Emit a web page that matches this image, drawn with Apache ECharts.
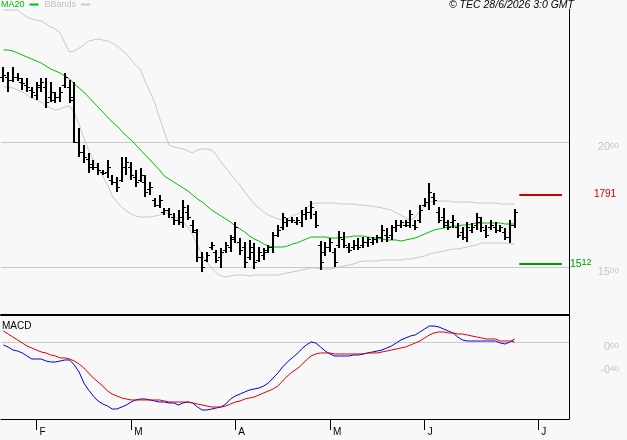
<!DOCTYPE html>
<html><head><meta charset="utf-8">
<script src="https://cdn.jsdelivr.net/npm/echarts@6/dist/echarts.min.js"></script>
<style>html,body{margin:0;padding:0;background:#f8f8f8}#c{width:627px;height:440px}</style>
</head><body><div id="c"></div>
<script>
// ---- data ----
const openP = [22.60,22.60,22.50,22.60,22.40,22.30,22.10,21.90,22.30,22.20,
21.80,21.70,21.80,22.30,22.20,21.70,20.00,19.60,19.30,19.10,
19.00,18.80,18.80,18.50,18.40,18.50,19.00,19.00,18.60,18.50,
18.40,18.10,17.70,17.50,17.20,17.30,17.00,16.90,16.80,17.20,
16.70,16.40,15.40,15.30,15.80,15.60,15.40,15.70,15.80,16.20,
16.00,15.80,15.40,15.60,15.30,15.50,15.70,15.80,16.30,16.60,
16.80,16.90,16.80,16.80,17.10,17.20,17.10,15.90,15.60,15.80,
15.60,15.90,16.10,15.80,15.80,15.90,15.90,16.00,16.00,16.10,
16.20,16.30,16.30,16.60,16.70,16.70,16.70,16.70,16.90,17.50,
17.60,17.80,17.20,17.00,16.70,16.80,16.60,16.40,16.20,16.50,
16.70,16.80,16.50,16.60,16.60,16.50,16.40,16.20,16.70];
const closeP = [22.70,22.50,22.60,22.56,22.36,22.20,22.00,22.20,22.40,21.60,
22.00,21.80,22.00,22.60,21.80,20.00,19.60,19.40,19.00,19.00,
18.90,18.76,19.00,18.40,18.20,19.00,19.20,18.70,18.40,18.70,
18.00,18.20,17.50,17.70,17.30,17.10,16.90,17.00,17.40,17.00,
16.50,15.40,15.00,15.50,15.90,15.30,15.60,15.90,16.10,16.60,
15.70,15.20,15.80,15.20,15.60,15.60,15.80,16.30,16.50,17.00,
16.90,16.90,16.90,17.10,17.20,17.40,16.70,15.20,15.80,16.00,
15.20,16.20,15.90,15.70,15.90,15.80,16.00,16.10,16.10,16.20,
16.50,16.20,16.60,16.70,16.80,16.80,17.10,16.60,17.30,17.60,
18.00,17.70,16.90,16.80,16.60,16.90,16.30,16.20,16.60,16.60,
17.00,16.60,16.30,16.70,16.50,16.60,16.20,16.70,17.20];
const lowP = [22.40,22.00,22.40,22.44,22.08,22.00,21.76,21.68,22.00,21.36,
21.60,21.56,21.60,22.16,21.56,19.96,19.40,19.16,18.76,18.88,
18.68,18.68,18.56,18.28,18.00,18.40,18.68,18.48,18.20,18.40,
17.80,17.88,17.40,17.36,17.08,16.96,16.68,16.68,16.56,16.88,
16.36,15.20,14.80,15.20,15.68,15.16,14.96,15.56,15.60,15.96,
15.48,14.96,15.28,14.92,15.20,15.28,15.56,15.56,16.20,16.48,
16.60,16.76,16.68,16.60,16.88,16.92,16.56,14.88,15.44,15.60,
15.00,15.76,15.76,15.56,15.68,15.68,15.76,15.80,15.88,15.96,
16.00,16.00,16.08,16.40,16.56,16.60,16.56,16.48,16.76,17.40,
17.28,17.48,16.76,16.56,16.48,16.56,16.16,16.08,16.00,16.36,
16.48,16.40,16.16,16.48,16.36,16.40,16.08,15.96,16.56];
const highP = [23.00,22.80,23.00,22.76,22.56,22.56,22.20,22.40,22.56,22.56,
22.40,22.00,22.20,22.76,22.48,22.40,20.56,19.88,19.56,19.28,
19.16,18.88,19.28,18.68,18.60,19.40,19.40,19.20,18.88,18.96,
18.68,18.40,17.76,17.88,17.36,17.36,17.16,17.28,17.68,17.48,
16.88,16.52,15.60,15.60,16.00,15.68,15.76,16.00,16.28,16.80,
16.16,16.00,16.08,15.96,15.80,15.76,15.88,16.40,16.68,17.16,
16.96,17.00,17.00,17.28,17.40,17.64,17.24,16.04,16.00,16.16,
15.76,16.44,16.40,15.96,16.08,16.16,16.20,16.20,16.20,16.28,
16.68,16.56,16.68,16.88,16.88,16.88,17.28,16.88,17.48,17.76,
18.36,17.96,17.40,17.36,16.88,17.08,16.76,16.60,16.80,16.76,
17.16,17.00,16.68,16.88,16.80,16.68,16.56,16.88,17.32];
const ma20 = [23.68,23.68,23.64,23.56,23.48,23.40,23.32,23.24,23.16,23.04,
22.92,22.84,22.76,22.64,22.52,22.32,22.16,22.00,21.80,21.60,
21.40,21.20,21.00,20.80,20.64,20.44,20.24,20.08,19.88,19.68,
19.48,19.28,19.08,18.88,18.64,18.52,18.40,18.28,18.16,18.04,
17.88,17.72,17.60,17.44,17.28,17.16,17.04,16.92,16.80,16.64,
16.52,16.40,16.24,16.12,16.04,15.92,15.84,15.80,15.80,15.80,
15.84,15.92,15.96,16.04,16.12,16.20,16.20,16.20,16.20,16.16,
16.16,16.16,16.20,16.20,16.24,16.24,16.24,16.20,16.16,16.16,
16.12,16.08,16.08,16.08,16.04,16.08,16.12,16.16,16.24,16.32,
16.40,16.48,16.52,16.56,16.60,16.64,16.64,16.68,16.68,16.72,
16.76,16.76,16.76,16.76,16.76,16.76,16.72,16.72,16.72];
const bbUpper = [25.28,25.28,25.28,25.28,25.12,25.00,24.92,24.88,24.84,24.72,
24.60,24.52,24.36,23.96,23.60,23.64,23.76,23.88,24.04,24.08,
24.12,24.08,24.04,23.96,23.84,23.68,23.52,23.28,23.08,22.88,
22.40,22.00,21.56,20.96,20.40,19.88,19.80,19.76,19.72,19.64,
19.56,19.68,19.72,19.72,19.68,19.48,19.20,18.96,18.72,18.48,
18.28,18.00,17.76,17.52,17.36,17.20,17.08,17.00,16.92,16.88,
16.92,17.04,17.12,17.20,17.36,17.52,17.56,17.56,17.56,17.56,
17.56,17.52,17.52,17.52,17.52,17.48,17.48,17.44,17.44,17.40,
17.36,17.32,17.28,17.16,17.08,16.96,16.88,17.00,17.24,17.44,
17.60,17.64,17.64,17.64,17.64,17.60,17.60,17.60,17.60,17.60,
17.56,17.56,17.56,17.56,17.56,17.52,17.52,17.52,17.52];
const bbLower = [22.20,22.20,22.16,22.08,22.00,21.88,21.76,21.68,21.60,21.44,
21.36,21.28,21.32,21.40,21.44,21.16,20.72,20.16,19.68,19.28,
18.96,18.64,18.28,17.84,17.60,17.40,17.24,17.12,17.04,17.00,
17.00,17.00,17.04,17.08,17.16,17.16,17.04,16.92,16.80,16.60,
16.28,15.88,15.48,15.20,14.96,14.76,14.64,14.60,14.64,14.68,
14.68,14.68,14.64,14.68,14.68,14.68,14.68,14.68,14.68,14.72,
14.76,14.80,14.84,14.88,14.92,14.96,14.96,14.92,14.92,14.92,
14.96,15.00,15.04,15.08,15.12,15.20,15.24,15.24,15.24,15.24,
15.28,15.28,15.28,15.28,15.28,15.32,15.32,15.36,15.40,15.44,
15.52,15.56,15.60,15.64,15.68,15.72,15.72,15.76,15.80,15.84,
15.88,15.96,15.96,15.96,15.96,15.96,15.96,15.92,15.92];
const macd = [-0.052,-0.087,-0.139,-0.157,-0.191,-0.244,-0.296,-0.296,-0.296,-0.331,
-0.348,-0.348,-0.331,-0.313,-0.313,-0.400,-0.522,-0.713,-0.835,-0.940,
-1.027,-1.079,-1.114,-1.166,-1.166,-1.131,-1.096,-1.044,-1.009,-0.992,
-0.992,-1.009,-1.027,-1.044,-1.044,-1.061,-1.061,-1.096,-1.061,-1.044,
-1.061,-1.131,-1.183,-1.183,-1.166,-1.148,-1.131,-1.079,-0.992,-0.940,
-0.905,-0.870,-0.835,-0.818,-0.800,-0.766,-0.713,-0.626,-0.539,-0.435,
-0.348,-0.278,-0.209,-0.122,-0.052,0.000,-0.017,-0.087,-0.157,-0.209,
-0.244,-0.244,-0.244,-0.244,-0.226,-0.226,-0.209,-0.191,-0.174,-0.157,
-0.139,-0.104,-0.070,-0.017,0.035,0.070,0.104,0.122,0.174,0.226,
0.278,0.278,0.261,0.226,0.191,0.157,0.087,0.035,0.017,0.017,
0.017,0.017,0.017,0.017,0.017,-0.017,-0.035,0.000,0.052];
const signal = [0.191,0.139,0.087,0.035,-0.017,-0.070,-0.104,-0.139,-0.174,-0.191,
-0.226,-0.244,-0.278,-0.278,-0.296,-0.331,-0.383,-0.452,-0.539,-0.626,
-0.696,-0.766,-0.853,-0.905,-0.940,-0.974,-0.992,-1.009,-1.009,-1.009,
-1.009,-1.009,-1.009,-1.009,-1.027,-1.044,-1.044,-1.044,-1.044,-1.044,
-1.061,-1.079,-1.096,-1.114,-1.131,-1.131,-1.131,-1.114,-1.079,-1.044,
-1.027,-0.992,-0.974,-0.957,-0.922,-0.887,-0.853,-0.818,-0.766,-0.679,
-0.592,-0.522,-0.470,-0.400,-0.313,-0.244,-0.209,-0.191,-0.191,-0.191,
-0.209,-0.209,-0.209,-0.209,-0.209,-0.209,-0.209,-0.191,-0.191,-0.191,
-0.174,-0.157,-0.139,-0.122,-0.104,-0.087,-0.052,-0.017,0.017,0.070,
0.122,0.157,0.174,0.174,0.157,0.157,0.139,0.139,0.122,0.104,
0.087,0.070,0.052,0.052,0.052,0.017,0.017,0.017,0.000];
const resistance = 17.91;
const support = 15.12;
const priceTicks = [15, 20];
const macdTicks = [0, -0.4];
const holidays = ['2026-04-03', '2026-04-06', '2026-05-01'];
const monthLetters = ['J','F','M','A','M','J','J','A','S','O','N','D'];

// ---- categories: trading days of the data, then calendar days ahead ----
function fmt(d){const m=d.getUTCMonth()+1, dd=d.getUTCDate();return d.getUTCFullYear()+'-'+(m<10?'0':'')+m+'-'+(dd<10?'0':'')+dd;}
const cats = [];
let d = new Date(Date.UTC(2026,0,22));
while (cats.length < openP.length) {
  const wd = d.getUTCDay();
  const s = fmt(d);
  if (wd !== 0 && wd !== 6 && holidays.indexOf(s) < 0) cats.push(s);
  d = new Date(d.getTime() + 86400000);
}
while (cats.length < 120) { cats.push(fmt(d)); d = new Date(d.getTime() + 86400000); }
function isMonthStart(i){ return i > 0 && cats[i].slice(5,7) !== cats[i-1].slice(5,7); }

const ohlc = openP.map((o,i)=>[i, o, closeP[i], lowP[i], highP[i]]);

function splitLabel(v){
  const s = Number(v).toFixed(2).split('.');
  return '{a|' + s[0] + '}{b|' + s[1] + '}';
}
const axisRich = {
  a:{fontSize:11, color:'#c4c4c4', verticalAlign:'top', lineHeight:11},
  b:{fontSize:8, color:'#c4c4c4', verticalAlign:'top', lineHeight:11}
};

const chart = echarts.init(document.getElementById('c'), null, {renderer:'canvas'});
chart.setOption({
  animation:false,
  backgroundColor:'#f8f8f8',
  textStyle:{fontFamily:'Liberation Sans, Arial, sans-serif'},
  title:[
    {text:'© TEC 28/6/2026 3:0 GMT', right:53, top:0, padding:0,
     textStyle:{fontStyle:'italic', fontWeight:'normal', fontSize:10.5, color:'#000'}},
    {text:'MACD', left:2, top:321, padding:0,
     textStyle:{fontWeight:'normal', fontSize:10, color:'#000'}}
  ],
  legend:{left:1, top:0, padding:0, itemWidth:9, itemHeight:2, itemGap:6, align:'right',
    selectedMode:false,
    textStyle:{fontSize:9},
    data:[{name:'MA20', icon:'rect', textStyle:{color:'#00c000'}},
          {name:'BBands', icon:'rect', textStyle:{color:'#c0c0c0'}}]},
  grid:[
    {left:1, right:58, top:9, height:306},
    {left:1, right:58, top:316, height:103}
  ],
  xAxis:[
    {type:'category', gridIndex:0, data:cats, boundaryGap:true,
     axisLine:{onZero:false, lineStyle:{color:'#000', width:2}}, axisTick:{show:false}, axisLabel:{show:false}, splitLine:{show:false}},
    {type:'category', gridIndex:1, data:cats, boundaryGap:true,
     axisLine:{onZero:false, lineStyle:{color:'#000', width:1}},
     axisTick:{show:true, alignWithLabel:true, length:11, interval:(i)=>isMonthStart(i), lineStyle:{color:'#000', width:1}},
     axisLabel:{interval:(i)=>isMonthStart(i), formatter:(v)=>monthLetters[parseInt(v.slice(5,7),10)-1],
       align:'left', verticalAlign:'top', margin:8, padding:[0,0,0,3], fontSize:10, color:'#000'},
     splitLine:{show:false}}
  ],
  yAxis:[
    {type:'value', gridIndex:0, position:'right', min:13.08, max:25.32,
     axisLine:{show:true, onZero:false, lineStyle:{color:'#000', width:1}},
     axisTick:{show:false, customValues:priceTicks},
     splitLine:{show:true, lineStyle:{color:'#c8c8c8', width:1}},
     axisLabel:{customValues:priceTicks, formatter:splitLabel, rich:axisRich, align:'right', margin:50, padding:[10,0,0,0]}},
    {type:'value', gridIndex:1, position:'right', min:-1.34, max:0.452,
     axisLine:{show:true, onZero:false, lineStyle:{color:'#000', width:1}},
     axisTick:{show:false, customValues:[0]},
     splitLine:{show:true, lineStyle:{color:'#c8c8c8', width:1}},
     axisLabel:{customValues:macdTicks, formatter:splitLabel, rich:axisRich, align:'right', margin:50, padding:[10,0,0,0]}}
  ],
  series:[
    {name:'BBands', type:'line', xAxisIndex:0, yAxisIndex:0, data:bbUpper, showSymbol:false, symbol:'none',
     lineStyle:{color:'#c8c8c8', width:1}, itemStyle:{color:'#c8c8c8'}, z:1},
    {name:'BBands', type:'line', xAxisIndex:0, yAxisIndex:0, data:bbLower, showSymbol:false, symbol:'none',
     lineStyle:{color:'#c8c8c8', width:1}, itemStyle:{color:'#c8c8c8'}, z:1,
     markLine:{silent:true, symbol:['none','none'], animation:false,
       data:[
         [{coord:[cats[109], resistance], lineStyle:{color:'#cc0000', width:2, type:'solid'},
           label:{show:true, position:'end', distance:32, formatter:()=>splitLabel(resistance).replace('{b|','{c|'),
             rich:{a:{fontSize:10, color:'#cc0000', verticalAlign:'top', lineHeight:11}, c:{fontSize:10, color:'#cc0000', verticalAlign:'top', lineHeight:11}}}},
          {coord:[cats[118], resistance]}],
         [{coord:[cats[109], support], lineStyle:{color:'#009900', width:2, type:'solid'},
           label:{show:true, position:'end', distance:8, formatter:()=>splitLabel(support),
             rich:{a:{fontSize:10.5, color:'#009900', verticalAlign:'top', lineHeight:11}, b:{fontSize:9, color:'#009900', verticalAlign:'top', lineHeight:11}}}},
          {coord:[cats[118], support]}]
       ]}},
    {name:'MA20', type:'line', xAxisIndex:0, yAxisIndex:0, data:ma20, showSymbol:false, symbol:'none',
     lineStyle:{color:'#00c000', width:1}, itemStyle:{color:'#00c000'}, z:2},
    {name:'Price', type:'custom', xAxisIndex:0, yAxisIndex:0, data:ohlc, z:3,
     encode:{x:0, y:[1,2,3,4]},
     renderItem:function(params, api){
       const x = api.value(0);
       const pH = api.coord([x, api.value(4)]);
       const pL = api.coord([x, api.value(3)]);
       const pO = api.coord([x, api.value(1)]);
       const pC = api.coord([x, api.value(2)]);
       const cx = Math.round(pH[0]);
       const yo = Math.round(pO[1]) + 0.5, yc = Math.round(pC[1]) + 0.5;
       const st = {stroke:'#000', lineWidth:1};
       return {type:'group', children:[
         {type:'line', shape:{x1:cx, y1:pH[1], x2:cx, y2:pL[1]}, style:{stroke:'#000', lineWidth:2}},
         {type:'line', shape:{x1:cx-3, y1:yo, x2:cx, y2:yo}, style:st},
         {type:'line', shape:{x1:cx, y1:yc, x2:cx+3, y2:yc}, style:st}
       ]};
     }},
    {name:'MACD', type:'line', xAxisIndex:1, yAxisIndex:1, data:macd, showSymbol:false, symbol:'none',
     lineStyle:{color:'#0000dd', width:1}, itemStyle:{color:'#0000dd'}},
    {name:'Signal', type:'line', xAxisIndex:1, yAxisIndex:1, data:signal, showSymbol:false, symbol:'none',
     lineStyle:{color:'#dd0000', width:1}, itemStyle:{color:'#dd0000'}}
  ]
});
</script></body></html>
